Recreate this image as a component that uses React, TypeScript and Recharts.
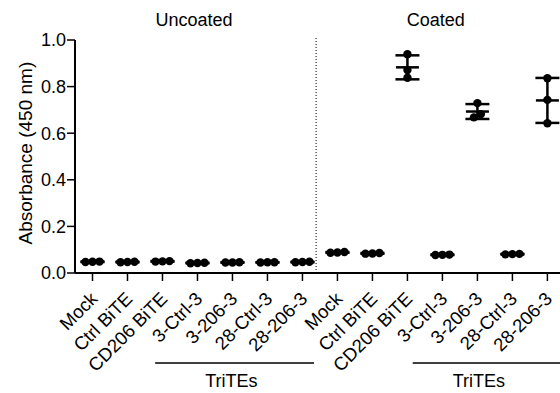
import { ComposedChart, Scatter, XAxis, YAxis, ErrorBar, ReferenceLine, ReferenceDot } from 'recharts'

const categories = ['Mock', 'Ctrl BiTE', 'CD206 BiTE', '3-Ctrl-3', '3-206-3', '28-Ctrl-3', '28-206-3']

// triplicates, absorbance at 450 nm
const uncoated = [
  [0.048, 0.047, 0.049],
  [0.047, 0.048, 0.046],
  [0.050, 0.051, 0.049],
  [0.043, 0.044, 0.042],
  [0.045, 0.046, 0.045],
  [0.046, 0.045, 0.046],
  [0.047, 0.046, 0.048],
]
const coated = [
  [0.090, 0.088, 0.087],
  [0.086, 0.084, 0.083],
  [0.939, 0.871, 0.838],
  [0.079, 0.078, 0.077],
  [0.729, 0.682, 0.668],
  [0.082, 0.081, 0.080],
  [0.836, 0.743, 0.643],
]
const yTicks = [0, 0.2, 0.4, 0.6, 0.8, 1.0]
const panelTitles = ['Uncoated', 'Coated']
const bracketTitle = 'TriTEs'

const FONT = '"Liberation Sans", Arial, sans-serif'
const labels = [...categories, ...categories]
const groups = [...uncoated, ...coated]
const xTicks = labels.map((_, i) => i + 1)

// spread overlapping replicates sideways, like a scatter dot plot does
function spread(vals: number[]) {
  const order = vals.map((v, i) => ({ v, i })).sort((a, b) => a.v - b.v)
  const offs = new Array(vals.length).fill(0)
  let cluster: number[] = []
  const flush = () => {
    cluster.forEach((idx, k) => { offs[idx] = (k - (cluster.length - 1) / 2) * 0.2 })
    cluster = []
  }
  order.forEach((o, k) => {
    if (k > 0 && o.v - order[k - 1].v > 0.025) flush()
    cluster.push(o.i)
  })
  flush()
  return offs
}

const points = groups.flatMap((vals, i) => {
  const offs = spread(vals)
  return vals.map((v, k) => ({ x: i + 1 + offs[k], y: v }))
})

const summary = groups.map((vals, i) => {
  const m = vals.reduce((a, b) => a + b, 0) / vals.length
  const sd = Math.sqrt(vals.reduce((a, b) => a + (b - m) ** 2, 0) / (vals.length - 1))
  return { x: i + 1, y: m, sd }
})

const Dot = (p: any) => <circle cx={p.cx} cy={p.cy} r={4.2} fill="#000" />
const MeanLine = (p: any) => (
  <line x1={p.cx - 11.5} x2={p.cx + 11.5} y1={p.cy} y2={p.cy} stroke="#000" strokeWidth={2.5} />
)

const XTick = (p: any) => {
  const tx = p.x + 6
  const ty = p.y + 17
  return (
    <text x={tx} y={ty} textAnchor="end" fontSize={18.5} fontFamily={FONT} fill="#000"
      transform={`rotate(-45, ${tx}, ${ty})`}>
      {labels[p.payload.value - 1]}
    </text>
  )
}

export default function App() {
  return (
    <div style={{ position: 'absolute', left: 0, top: 0, background: '#fff' }}>
      <ComposedChart width={560} height={393} margin={{ top: 40, right: 0, bottom: 10, left: 0 }}>
        <XAxis type="number" dataKey="x" domain={[0.5, 14.36]} ticks={xTicks} interval={0}
          allowDataOverflow height={110} tickSize={8} tick={<XTick />}
          axisLine={{ stroke: '#000', strokeWidth: 2 }} tickLine={{ stroke: '#000', strokeWidth: 1.5 }} />
        <YAxis type="number" dataKey="y" domain={[0, 1]} ticks={yTicks} width={75} tickSize={8} tickMargin={1}
          tickFormatter={(v: number) => v.toFixed(1)}
          tick={{ fill: '#000', fontSize: 18, fontFamily: FONT }}
          axisLine={{ stroke: '#000', strokeWidth: 2 }} tickLine={{ stroke: '#000', strokeWidth: 1.5 }}
          label={{ value: 'Absorbance (450 nm)', angle: -90, position: 'insideLeft', dx: 20, dy: 88,
            style: { fill: '#000', fontSize: 19, fontFamily: FONT } }} />
        <ReferenceLine segment={[{ x: 7.39, y: 0 }, { x: 7.39, y: 1.015 }]} ifOverflow="visible"
          stroke="#000" strokeWidth={1} strokeDasharray="1 2" />
        <ReferenceLine segment={[{ x: 2.79, y: -0.386 }, { x: 7.33, y: -0.386 }]} ifOverflow="visible"
          stroke="#000" strokeWidth={1.5} />
        <ReferenceLine segment={[{ x: 10.15, y: -0.386 }, { x: 14.4, y: -0.386 }]} ifOverflow="visible"
          stroke="#000" strokeWidth={1.5} />
        <ReferenceDot x={4.97} y={-0.386} r={0} ifOverflow="visible"
          label={{ value: bracketTitle, position: 'bottom', offset: 11, style: { fill: '#000', fontSize: 18, fontFamily: FONT } }} />
        <ReferenceDot x={12.04} y={-0.386} r={0} ifOverflow="visible"
          label={{ value: bracketTitle, position: 'bottom', offset: 11, style: { fill: '#000', fontSize: 18, fontFamily: FONT } }} />
        <ReferenceDot x={3.9} y={1.086} r={0} ifOverflow="visible"
          label={{ value: panelTitles[0], position: 'center', style: { fill: '#000', fontSize: 18, fontFamily: FONT } }} />
        <ReferenceDot x={10.81} y={1.086} r={0} ifOverflow="visible"
          label={{ value: panelTitles[1], position: 'center', style: { fill: '#000', fontSize: 18, fontFamily: FONT } }} />
        <Scatter data={points} shape={Dot} isAnimationActive={false} />
        <Scatter data={summary} shape={MeanLine} isAnimationActive={false}>
          <ErrorBar dataKey="sd" direction="y" width={12} stroke="#000" strokeWidth={2.5} />
        </Scatter>
      </ComposedChart>
    </div>
  )
}
